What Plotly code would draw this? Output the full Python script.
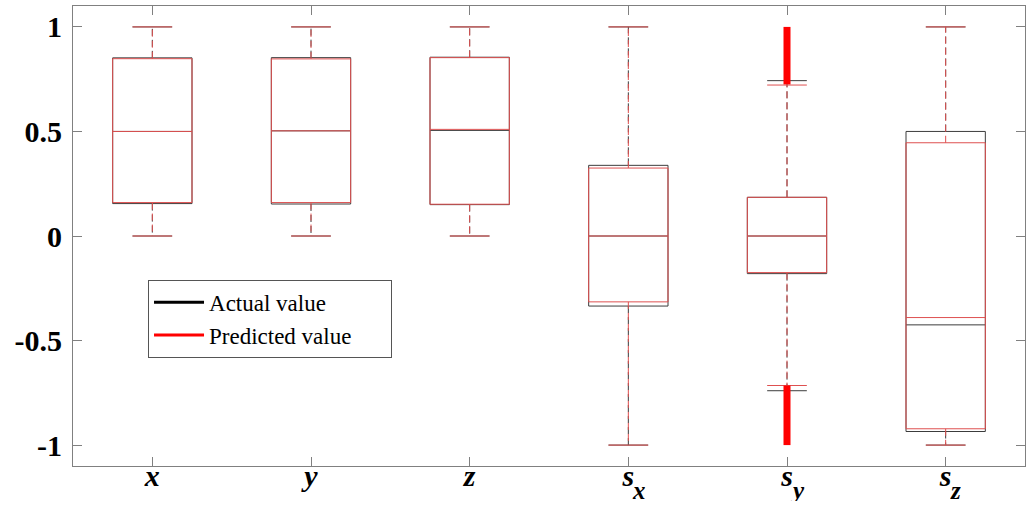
import plotly.graph_objects as go

categories = ["x", "y", "z", "s_x", "s_y", "s_z"]
tick_main = ["x", "y", "z", "s", "s", "s"]
tick_sub = ["", "", "", "x", "y", "z"]

# Actual value box statistics
act_low = [0.0, 0.0, 0.0, -1.0, -0.74, -1.0]
act_q1 = [0.155, 0.153, 0.150, -0.335, -0.180, -0.935]
act_med = [0.500, 0.503, 0.505, 0.0, 0.0, -0.425]
act_q3 = [0.852, 0.853, 0.855, 0.338, 0.185, 0.500]
act_up = [1.0, 1.0, 1.0, 1.0, 0.743, 1.0]

# Predicted value box statistics
pred_low = [0.0, 0.0, 0.0, -1.0, -0.715, -1.0]
pred_q1 = [0.160, 0.160, 0.152, -0.315, -0.175, -0.922]
pred_med = [0.500, 0.503, 0.510, 0.0, 0.0, -0.390]
pred_q3 = [0.848, 0.847, 0.853, 0.325, 0.185, 0.446]
pred_up = [1.0, 1.0, 1.0, 1.0, 0.722, 1.0]

# Predicted outliers on s_y (dense band of points)
pred_out_cat = [5, 5]
pred_out_hi = [0.725, 1.0]
pred_out_lo = [-0.715, -1.0]

BOX_HALF = 0.25
CAP_HALF = 0.125
BLACK = "rgb(60,60,60)"
RED = "rgb(222,80,80)"
SERIF = "Liberation Serif"
PAD = "\u00a0" * 6

fig = go.Figure()


def add_series(low, q1, med, q3, up, color):
    bx, by, mx, my, wx, wy, cx, cy = [], [], [], [], [], [], [], []
    for i in range(len(categories)):
        p = i + 1
        bx += [p - BOX_HALF, p + BOX_HALF, p + BOX_HALF, p - BOX_HALF, p - BOX_HALF, None]
        by += [q1[i], q1[i], q3[i], q3[i], q1[i], None]
        mx += [p - BOX_HALF, p + BOX_HALF, None]
        my += [med[i], med[i], None]
        wx += [p, p, None, p, p, None]
        wy += [q3[i], up[i], None, q1[i], low[i], None]
        cx += [p - CAP_HALF, p + CAP_HALF, None, p - CAP_HALF, p + CAP_HALF, None]
        cy += [up[i], up[i], None, low[i], low[i], None]
    fig.add_trace(go.Scatter(x=wx, y=wy, mode="lines", showlegend=False, hoverinfo="skip",
                             line=dict(color=color, width=1, dash="7px,4px")))
    fig.add_trace(go.Scatter(x=cx, y=cy, mode="lines", showlegend=False, hoverinfo="skip",
                             line=dict(color=color, width=1)))
    fig.add_trace(go.Scatter(x=bx, y=by, mode="lines", showlegend=False, hoverinfo="skip",
                             line=dict(color=color, width=1)))
    fig.add_trace(go.Scatter(x=mx, y=my, mode="lines", showlegend=False, hoverinfo="skip",
                             line=dict(color=color, width=1)))


add_series(act_low, act_q1, act_med, act_q3, act_up, BLACK)
add_series(pred_low, pred_q1, pred_med, pred_q3, pred_up, RED)

# predicted outlier bands
fig.add_trace(go.Scatter(x=pred_out_cat, y=pred_out_hi, mode="lines", showlegend=False,
                         line=dict(color="red", width=7)))
fig.add_trace(go.Scatter(x=pred_out_cat, y=pred_out_lo, mode="lines", showlegend=False,
                         line=dict(color="red", width=7)))

# legend entries
fig.add_trace(go.Scatter(x=[None], y=[None], mode="lines", name="Actual value" + PAD,
                         line=dict(color="black", width=3)))
fig.add_trace(go.Scatter(x=[None], y=[None], mode="lines", name="Predicted value" + PAD,
                         line=dict(color="red", width=3)))

for i, s in enumerate(tick_sub):
    if s:
        fig.add_annotation(x=i + 1 + 0.065, y=-0.053, xref="x", yref="paper",
                           text="<b><i>" + s + "</i></b>", showarrow=False,
                           yanchor="middle", xanchor="center", height=22, borderpad=0,
                           font=dict(family=SERIF, size=25, color="black"))

fig.update_layout(
    width=1032, height=506,
    margin=dict(l=73, r=7, t=6, b=40),
    plot_bgcolor="white", paper_bgcolor="white",
    showlegend=True,
    legend=dict(x=0.0788, y=0.405, xanchor="left", yanchor="top",
                bordercolor="#555555", borderwidth=1, bgcolor="white",
                font=dict(family=SERIF, size=23, color="black"),
                tracegroupgap=0, itemwidth=50),
    xaxis=dict(range=[0.5, 6.5], tickvals=[1, 2, 3, 4, 5, 6],
               ticktext=["<b><i>" + t + "</i></b>" for t in tick_main],
               showgrid=False, zeroline=False, showline=True, linecolor="#808080",
               linewidth=1, mirror="ticks", ticks="inside", ticklen=9, tickcolor="#808080",
               automargin=False, ticklabelstandoff=-17,
               tickfont=dict(family=SERIF, size=30, color="black")),
    yaxis=dict(range=[-1.1, 1.1], tickvals=[-1, -0.5, 0, 0.5, 1],
               ticktext=["-1", "-0.5", "0", "0.5", "1"],
               showgrid=False, zeroline=False, showline=True, linecolor="#808080",
               linewidth=1, mirror="ticks", ticks="inside", ticklen=9, tickcolor="#808080",
               automargin=False,
               tickfont=dict(family=SERIF, size=30, color="black", weight="bold"),
               ticklabelstandoff=4),
)

fig.write_html("out.html")
